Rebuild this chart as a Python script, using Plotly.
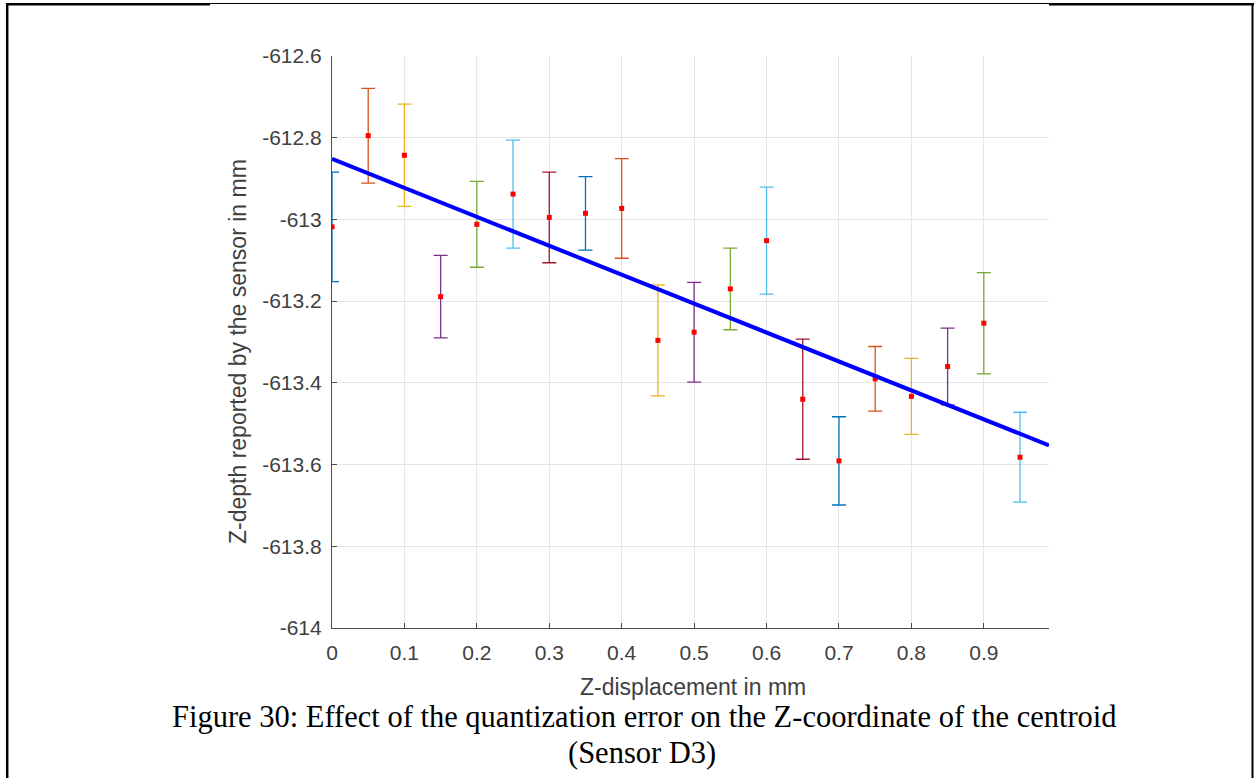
import plotly.graph_objects as go

# ---------------- data ----------------
x_disp = [0.00, 0.05, 0.10, 0.15, 0.20, 0.25, 0.30, 0.35, 0.40, 0.45,
          0.50, 0.55, 0.60, 0.65, 0.70, 0.75, 0.80, 0.85, 0.90, 0.95]
z_mean = [-613.018, -612.795, -612.843, -613.189, -613.012, -612.938, -612.995, -612.985, -612.973, -613.296,
          -613.276, -613.170, -613.052, -613.440, -613.591, -613.390, -613.433, -613.360, -613.254, -613.582]
z_err = [0.134, 0.116, 0.125, 0.101, 0.105, 0.132, 0.111, 0.090, 0.122, 0.136,
         0.122, 0.100, 0.131, 0.147, 0.108, 0.079, 0.093, 0.094, 0.124, 0.110]
bar_colors = ["#0072BD", "#D95319", "#EDB120", "#7E2F8E", "#77AC30", "#4DBEEE", "#A2142F"]

fit_x = [0.0, 0.99]
fit_y = [-612.852, -613.553]

x_tickvals = [0, 0.1, 0.2, 0.3, 0.4, 0.5, 0.6, 0.7, 0.8, 0.9]
x_ticktext = ["0", "0.1", "0.2", "0.3", "0.4", "0.5", "0.6", "0.7", "0.8", "0.9"]
y_tickvals = [-614, -613.8, -613.6, -613.4, -613.2, -613, -612.8, -612.6]
y_ticktext = ["-614", "-613.8", "-613.6", "-613.4", "-613.2", "-613", "-612.8", "-612.6"]

x_title = "Z-displacement in mm"
y_title = "Z-depth reported by the sensor in mm"
caption1 = "Figure 30: Effect of the quantization error on the Z-coordinate of the centroid"
caption2 = "(Sensor D3)"

# ---------------- layout geometry ----------------
W, H = 1254, 778
L, R, T, B = 332, 1049, 56, 628  # plot area in pixels


def px(xp):
    return (xp - L) / (R - L)


def py(yp):
    return (B - yp) / (B - T)


fig = go.Figure()

for i, (xv, yv, ev) in enumerate(zip(x_disp, z_mean, z_err)):
    c = bar_colors[i % len(bar_colors)]
    fig.add_trace(go.Scatter(
        x=[xv], y=[yv], mode="markers",
        marker=dict(symbol="square", size=5, color="#FF0000", line=dict(width=0)),
        error_y=dict(type="data", array=[ev], color=c, thickness=1.3, width=7, visible=True),
        showlegend=False, hoverinfo="x+y",
    ))

fig.add_trace(go.Scatter(
    x=fit_x, y=fit_y, mode="lines",
    line=dict(color="#0000FF", width=4),
    showlegend=False,
))

tick_font = dict(family="Liberation Sans, Arial, sans-serif", size=21, color="#404040")
title_font = dict(family="Liberation Sans, Arial, sans-serif", size=23, color="#404040")
cap_font = dict(family="Liberation Serif, Times New Roman, serif", size=30.5, color="black")

fig.update_xaxes(
    range=[0, 0.99], tickvals=x_tickvals, ticktext=x_ticktext,
    showgrid=True, gridcolor="#E5E5E5", gridwidth=1,
    showline=True, linecolor="#4D4D4D", linewidth=1.2,
    ticks="inside", ticklen=5, tickcolor="#4D4D4D", tickwidth=1,
    tickfont=tick_font, zeroline=False, mirror=False, ticklabelstandoff=6,
)
fig.update_yaxes(
    range=[-614, -612.6], tickvals=y_tickvals, ticktext=y_ticktext,
    showgrid=True, gridcolor="#E5E5E5", gridwidth=1,
    showline=True, linecolor="#4D4D4D", linewidth=1.2,
    ticks="inside", ticklen=5, tickcolor="#4D4D4D", tickwidth=1,
    tickfont=tick_font, zeroline=False, mirror=False, ticklabelstandoff=5,
)

shapes = [
    # page border pieces
    dict(type="line", xref="paper", yref="paper", x0=px(6), x1=px(210), y0=py(4.3), y1=py(4.3),
         line=dict(color="black", width=2.5)),
    dict(type="line", xref="paper", yref="paper", x0=px(210), x1=px(1049), y0=py(3.5), y1=py(3.5),
         line=dict(color="black", width=1.2)),
    dict(type="line", xref="paper", yref="paper", x0=px(1049), x1=px(1254), y0=py(4.3), y1=py(4.3),
         line=dict(color="black", width=2.5)),
    dict(type="line", xref="paper", yref="paper", x0=px(7.2), x1=px(7.2), y0=py(3), y1=py(780),
         line=dict(color="black", width=2.5)),
    dict(type="line", xref="paper", yref="paper", x0=px(1252.5), x1=px(1252.5), y0=py(3), y1=py(780),
         line=dict(color="black", width=2)),
]

annotations = [
    dict(text=x_title, xref="paper", yref="paper", x=px(693), y=py(687), showarrow=False,
         xanchor="center", yanchor="middle", font=title_font),
    dict(text=y_title, xref="paper", yref="paper", x=px(238), y=py(352), showarrow=False,
         xanchor="center", yanchor="middle", textangle=-90, font=title_font),
    dict(text=caption1, xref="paper", yref="paper", x=px(644), y=py(717), showarrow=False,
         xanchor="center", yanchor="middle", font=cap_font),
    dict(text=caption2, xref="paper", yref="paper", x=px(642), y=py(753), showarrow=False,
         xanchor="center", yanchor="middle", font=cap_font),
]

fig.update_layout(
    width=W, height=H,
    margin=dict(l=L, r=W - R, t=T, b=H - B, pad=0),
    paper_bgcolor="white", plot_bgcolor="white",
    shapes=shapes, annotations=annotations,
    showlegend=False,
)

fig.write_html("out.html")
